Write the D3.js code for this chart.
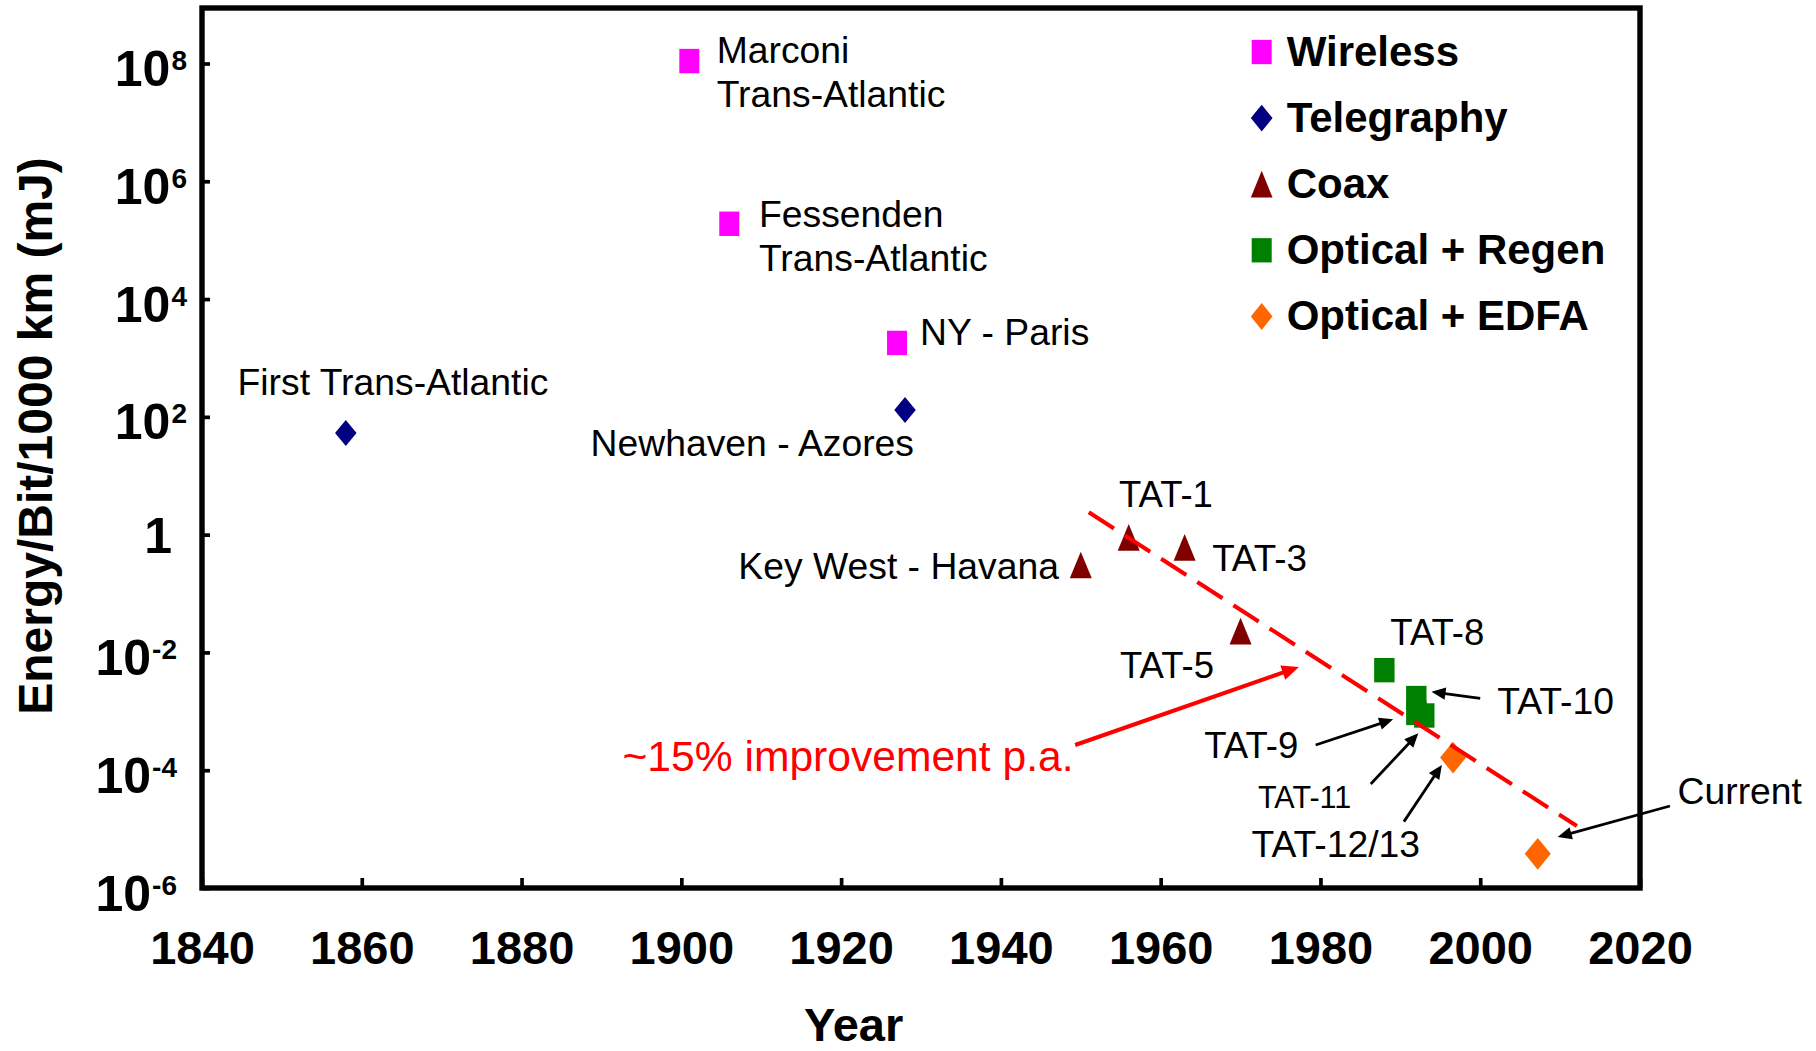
<!DOCTYPE html>
<html>
<head>
<meta charset="utf-8">
<script src="https://cdn.jsdelivr.net/npm/d3@7"></script>
<style>
  html, body { margin: 0; padding: 0; background: #ffffff; }
  svg { display: block; }
</style>
</head>
<body>
<svg id="chart" width="1816" height="1051"></svg>
<script>
// ---- Data: energy per bit per 1000 km (mJ) for trans-oceanic links ----
const wireless = [
  { name: "Marconi\nTrans-Atlantic",   year: 1901, value: 1.1e8 },
  { name: "Fessenden\nTrans-Atlantic", year: 1906, value: 1.9e5 },
  { name: "NY - Paris",                year: 1927, value: 1.8e3 }
];
const telegraphy = [
  { name: "First Trans-Atlantic", year: 1858, value: 53 },
  { name: "Newhaven - Azores",    year: 1928, value: 131 }
];
const coax = [
  { name: "Key West - Havana", year: 1950, value: 0.305 },
  { name: "TAT-1",             year: 1956, value: 0.90 },
  { name: "TAT-3",             year: 1963, value: 0.61 },
  { name: "TAT-5",             year: 1970, value: 0.023 }
];
const opticalRegen = [
  { name: "TAT-8",  year: 1988, value: 5.0e-3 },
  { name: "TAT-10", year: 1992, value: 1.68e-3 },
  { name: "TAT-9",  year: 1992, value: 9.4e-4 },
  { name: "TAT-11", year: 1993, value: 8.5e-4 }
];
const opticalEdfa = [
  { name: "TAT-12/13", year: 1996.6, value: 1.64e-4 },
  { name: "Current",   year: 2007.2, value: 3.8e-6 }
];
// ~15% per year improvement trend
const trendLine = [
  { year: 1951.0, value: 2.40 },
  { year: 2012.1, value: 1.13e-5 }
];
const xTickValues = [1840, 1860, 1880, 1900, 1920, 1940, 1960, 1980, 2000, 2020];
const yTickExponents = [-6, -4, -2, 0, 2, 4, 6, 8];
const legendLabels = ["Wireless", "Telegraphy", "Coax", "Optical + Regen", "Optical + EDFA"];

// Pointer arrows (data coordinates: tail -> tip)
const pointerArrows = [
  { from: [2000.0, 1.66e-3], to: [1993.9, 2.15e-3], color: "#000000" }, // TAT-10
  { from: [1979.4, 2.68e-4], to: [1989.1, 7.33e-4], color: "#000000" }, // TAT-9
  { from: [1986.3, 5.83e-5], to: [1992.25, 4.24e-4], color: "#000000" }, // TAT-11
  { from: [1990.45, 1.34e-5], to: [1995.2, 1.23e-4], color: "#000000" }, // TAT-12/13
  { from: [2023.75, 2.47e-5], to: [2009.7, 7.35e-6], color: "#000000" }, // Current
  { from: [1949.3, 2.68e-4], to: [1977.3, 5.66e-3], color: "#FF0000" }   // trend note
];

// ---- Layout & style ----
const FONT = "'Liberation Sans', Arial, Helvetica, sans-serif";
const W = 1816, H = 1051;
const plot = { left: 202, right: 1640, top: 8, bottom: 888 };

const seriesStyles = [
  { points: wireless,     color: "#FF00FF", shape: "square",   size: [20, 24.4],  legendSize: [20, 24.3] },
  { points: telegraphy,   color: "#000080", shape: "diamond",  size: [21.5, 26],  legendSize: [21.7, 26.7] },
  { points: coax,         color: "#800000", shape: "triangle", size: [22, 26.7],  legendSize: [21.7, 26.7] },
  { points: opticalRegen, color: "#008000", shape: "square",   size: [20.4, 24.4], legendSize: [20, 24.3] },
  { points: opticalEdfa,  color: "#FF6600", shape: "diamond",  size: [26, 31.7],  legendSize: [21.7, 27] }
];

// Label offsets (px) from each marker centre
const labelLayout = {
  "Marconi\nTrans-Atlantic":   { dx: 27.4,   dy: 2.2,  anchor: "start" },
  "Fessenden\nTrans-Atlantic": { dx: 29.7,   dy: 2.9,  anchor: "start" },
  "NY - Paris":                { dx: 23,     dy: 2,    anchor: "start" },
  "First Trans-Atlantic":      { dx: -108.3, dy: -38.1, anchor: "start" },
  "Newhaven - Azores":         { dx: 9,      dy: 46,   anchor: "end" },
  "Key West - Havana":         { dx: -21.8,  dy: 14,   anchor: "end" },
  "TAT-1":                     { dx: -9.8,   dy: -30.3, anchor: "start", size: 36.5 },
  "TAT-3":                     { dx: 27.5,   dy: 23.7, anchor: "start", size: 36.8 },
  "TAT-5":                     { dx: -26.6,  dy: 46.5, anchor: "end",   size: 36.5 },
  "TAT-8":                     { dx: 6,      dy: -25.2, anchor: "start", size: 36.5 },
  "TAT-10":                    { dx: 80.9,   dy: 16.2, anchor: "start" },
  "TAT-9":                     { dx: -118.1, dy: 45.5, anchor: "end",   size: 36.5 },
  "TAT-11":                    { dx: -166.3, dy: 92.5, anchor: "start", size: 30.5 },
  "TAT-12/13":                 { dx: -201.6, dy: 99.4, anchor: "start" },
  "Current":                   { dx: 139.8,  dy: -49.4, anchor: "start" }
};

const svg = d3.select("#chart")
  .attr("viewBox", `0 0 ${W} ${H}`)
  .style("font-family", FONT);

svg.append("rect").attr("width", W).attr("height", H).attr("fill", "#ffffff");

const x = d3.scaleLinear().domain([1840, 2020]).range([plot.left, plot.right]);
const y = d3.scaleLog().domain([1e-6, 1e8]).range([plot.bottom, 63.5]);

function shapePath(shape, w, h) {
  const a = w / 2, b = h / 2;
  if (shape === "square") return `M${-a},${-b}H${a}V${b}H${-a}Z`;
  if (shape === "diamond") return `M0,${-b}L${a},0L0,${b}L${-a},0Z`;
  return `M0,${-b}L${a},${b}L${-a},${b}Z`; // triangle
}

// ---- Axes (ticks point inward) ----
const xAxis = svg.append("g")
  .attr("transform", `translate(0,${plot.bottom})`)
  .call(d3.axisBottom(x).tickValues(xTickValues).tickSize(-10).tickPadding(43).tickFormat(d3.format("d")));
xAxis.select(".domain").remove();
xAxis.attr("font-family", FONT).attr("font-size", 47).attr("font-weight", "bold");
xAxis.selectAll(".tick line").attr("stroke", "#000").attr("stroke-width", 3.7);
xAxis.selectAll(".tick text").attr("fill", "#000");

const yAxis = svg.append("g")
  .attr("transform", `translate(${plot.left},0)`)
  .call(d3.axisLeft(y).tickValues(yTickExponents.map(e => Math.pow(10, e))).tickSize(-8).tickFormat(() => ""));
yAxis.select(".domain").remove();
yAxis.selectAll(".tick line").attr("stroke", "#000").attr("stroke-width", 3.7);
yAxis.selectAll(".tick text").remove();

// Power-of-ten labels with superscript exponents
yAxis.selectAll(".tick").each(function (d) {
  const e = Math.round(Math.log10(d));
  const endX = e > 0 ? -15 : (e < 0 ? -25 : -30);
  const t = d3.select(this).append("text")
    .attr("x", endX).attr("y", e === 0 ? 18 : 22)
    .attr("text-anchor", "end")
    .attr("font-family", FONT)
    .attr("font-weight", "bold")
    .attr("fill", "#000");
  if (e === 0) {
    t.append("tspan").attr("font-size", 50).text("1");
  } else {
    t.append("tspan").attr("font-size", 50).text("10");
    t.append("tspan").attr("font-size", 28).attr("dx", 1).attr("dy", -16).text(String(e));
  }
});

// Plot frame
svg.append("rect")
  .attr("x", plot.left).attr("y", plot.top)
  .attr("width", plot.right - plot.left).attr("height", plot.bottom - plot.top)
  .attr("fill", "none").attr("stroke", "#000").attr("stroke-width", 5.4);

// Axis titles
svg.append("text")
  .attr("transform", "translate(52,436) rotate(-90)")
  .attr("text-anchor", "middle")
  .attr("font-size", 48).attr("font-weight", "bold").attr("fill", "#000")
  .text("Energy/Bit/1000 km (mJ)");

svg.append("text")
  .attr("x", 853.6).attr("y", 1041)
  .attr("text-anchor", "middle")
  .attr("font-size", 47).attr("font-weight", "bold").attr("fill", "#000")
  .text("Year");

// ---- Markers ----
const markLayer = svg.append("g");
seriesStyles.forEach(s => {
  markLayer.append("g").selectAll("path")
    .data(s.points)
    .join("path")
    .attr("transform", d => `translate(${x(d.year)},${y(d.value)})`)
    .attr("d", shapePath(s.shape, s.size[0], s.size[1]))
    .attr("fill", s.color);
});

// ---- Trend line (dashed) ----
svg.append("path")
  .datum(trendLine)
  .attr("d", d3.line().x(d => x(d.year)).y(d => y(d.value)))
  .attr("fill", "none")
  .attr("stroke", "#FF0000")
  .attr("stroke-width", 4)
  .attr("stroke-dasharray", "30,13");

// ---- Pointer arrows ----
const arrowLayer = svg.append("g");
pointerArrows.forEach(a => {
  const x0 = x(a.from[0]), y0 = y(a.from[1]);
  const x1 = x(a.to[0]),   y1 = y(a.to[1]);
  const red = a.color !== "#000000";
  const headLen = red ? 17 : 14, headW = red ? 15 : 12.5, sw = red ? 4 : 2.8;
  const len = Math.hypot(x1 - x0, y1 - y0);
  const ux = (x1 - x0) / len, uy = (y1 - y0) / len;
  const bx = x1 - ux * headLen, by = y1 - uy * headLen;
  arrowLayer.append("line")
    .attr("x1", x0).attr("y1", y0)
    .attr("x2", x1 - ux * headLen * 0.7).attr("y2", y1 - uy * headLen * 0.7)
    .attr("stroke", a.color).attr("stroke-width", sw);
  arrowLayer.append("path")
    .attr("d", `M${x1},${y1}L${bx - uy * headW / 2},${by + ux * headW / 2}L${bx + uy * headW / 2},${by - ux * headW / 2}Z`)
    .attr("fill", a.color);
});

// ---- Point labels ----
const labelLayer = svg.append("g").attr("fill", "#000");
seriesStyles.forEach(s => {
  s.points.forEach(p => {
    const L = labelLayout[p.name];
    if (!L) return;
    const fs = L.size || 37.3;
    const t = labelLayer.append("text")
      .attr("x", x(p.year) + L.dx)
      .attr("y", y(p.value) + L.dy)
      .attr("text-anchor", L.anchor)
      .attr("font-size", fs);
    p.name.split("\n").forEach((line, i) => {
      t.append("tspan")
        .attr("x", x(p.year) + L.dx)
        .attr("dy", i === 0 ? 0 : 44)
        .text(line);
    });
  });
});

// Trend annotation
svg.append("text")
  .attr("x", 622.5).attr("y", 771)
  .attr("font-size", 42.6)
  .attr("fill", "#FF0000")
  .text("~15% improvement p.a.");

// ---- Legend ----
const legend = svg.append("g").attr("transform", "translate(1261.7,52)");
legendLabels.forEach((label, i) => {
  const s = seriesStyles[i];
  const row = legend.append("g").attr("transform", `translate(0,${i * 66.1})`);
  row.append("path")
    .attr("d", shapePath(s.shape, s.legendSize[0], s.legendSize[1]))
    .attr("fill", s.color);
  row.append("text")
    .attr("x", 25).attr("y", 14)
    .attr("font-size", 42).attr("font-weight", "bold").attr("fill", "#000")
    .text(label);
});
</script>
</body>
</html>
